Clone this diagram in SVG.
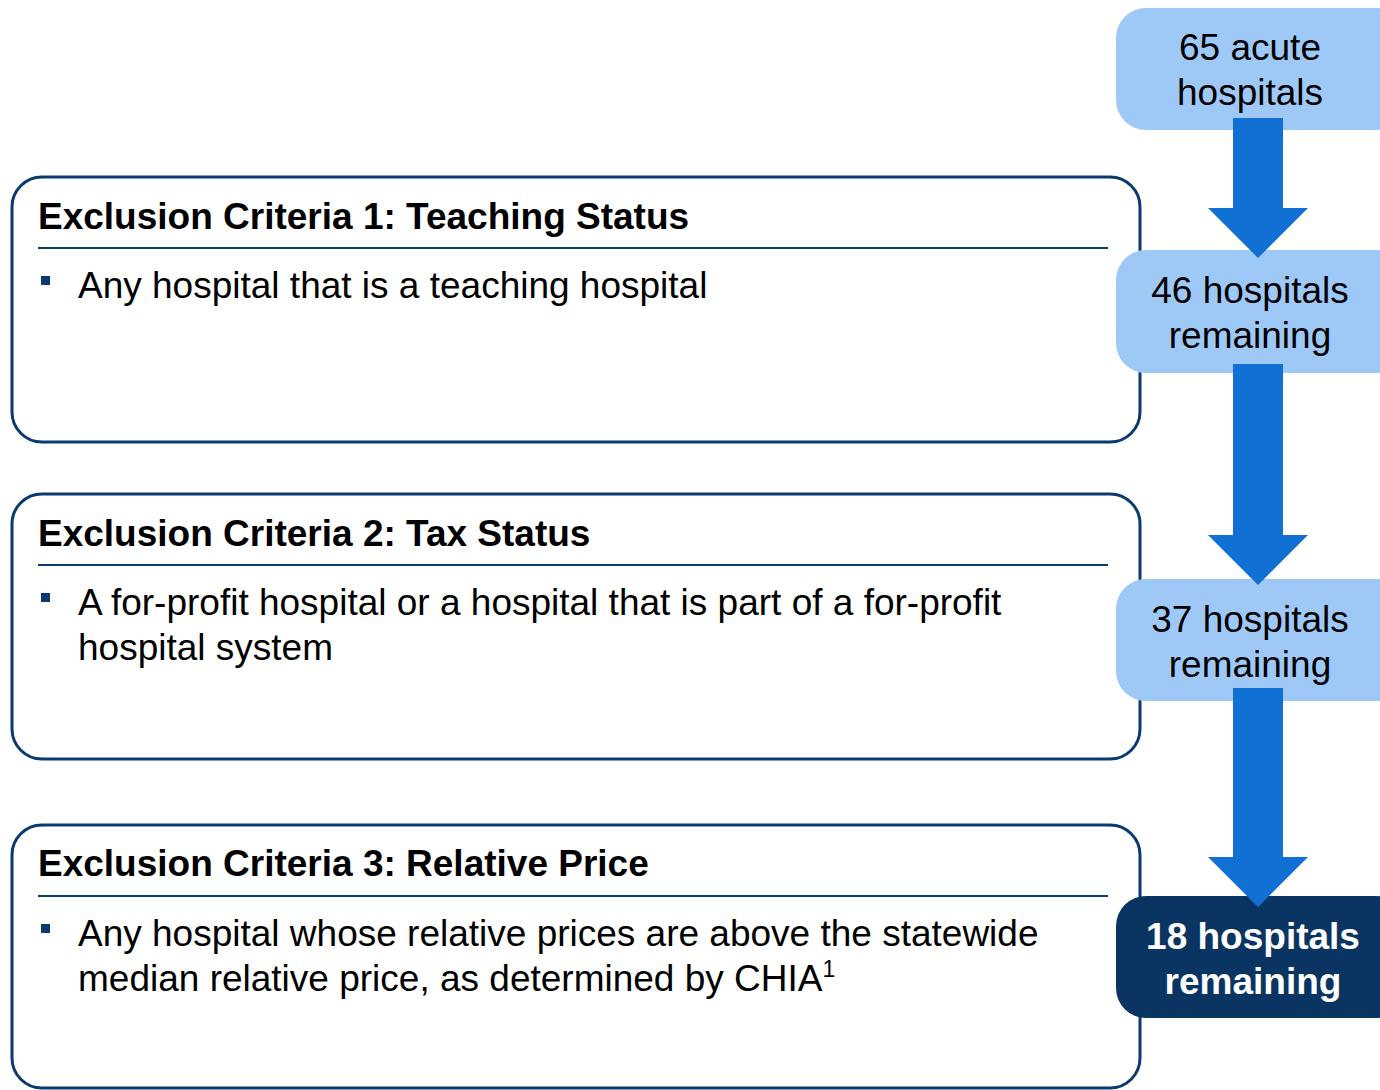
<svg xmlns="http://www.w3.org/2000/svg" width="1380" height="1090" viewBox="0 0 1380 1090">
<style>
.crit{fill:#fff;stroke:#0b3a70;stroke-width:3}
.div{stroke:#0b3a70;stroke-width:2}
.h{font-family:"Liberation Sans",Arial,sans-serif;font-weight:bold;font-size:37px;fill:#000}
.b{font-family:"Liberation Sans",Arial,sans-serif;font-size:37px;fill:#000}
.bul{fill:#0b3a70}
.cnt{fill:#9ec9f6}
.cntd{fill:#0a3563}
.ct{font-family:"Liberation Sans",Arial,sans-serif;font-size:37px;fill:#000;text-anchor:middle}
.ctw{font-family:"Liberation Sans",Arial,sans-serif;font-size:37px;font-weight:bold;fill:#fff;text-anchor:middle}
.arr{fill:#1070d4}
</style>
<g id="crit1">
<rect class="crit" x="12" y="177" width="1128" height="265" rx="30"/>
<text class="h" x="38" y="229">Exclusion Criteria 1: Teaching Status</text>
<line class="div" x1="38" y1="248" x2="1108" y2="248"/>
<rect class="bul" x="41" y="276" width="9" height="9"/>
<text class="b" x="78" y="298">Any hospital that is a teaching hospital</text>
</g>
<g id="crit2">
<rect class="crit" x="12" y="494" width="1128" height="265" rx="30"/>
<text class="h" x="38" y="546">Exclusion Criteria 2: Tax Status</text>
<line class="div" x1="38" y1="565" x2="1108" y2="565"/>
<rect class="bul" x="41" y="593" width="9" height="9"/>
<text class="b" x="78" y="615">A for-profit hospital or a hospital that is part of a for-profit</text>
<text class="b" x="78" y="660">hospital system</text>
</g>
<g id="crit3">
<rect class="crit" x="12" y="825" width="1128" height="263" rx="30"/>
<text class="h" x="38" y="876">Exclusion Criteria 3: Relative Price</text>
<line class="div" x1="38" y1="896" x2="1108" y2="896"/>
<rect class="bul" x="41" y="924" width="9" height="9"/>
<text class="b" x="78" y="946">Any hospital whose relative prices are above the statewide</text>
<text class="b" x="78" y="991">median relative price, as determined by CHIA<tspan font-size="23" dy="-14">1</tspan></text>
</g>
<g id="count65">
<rect class="cnt" x="1116" y="8" width="290" height="122" rx="30"/>
<text class="ct" x="1250" y="60">65 acute</text>
<text class="ct" x="1250" y="105">hospitals</text>
</g>
<g id="count46">
<rect class="cnt" x="1116" y="250" width="290" height="123" rx="30"/>
<text class="ct" x="1250" y="303">46 hospitals</text>
<text class="ct" x="1250" y="348">remaining</text>
</g>
<g id="count37">
<rect class="cnt" x="1116" y="579" width="290" height="122" rx="30"/>
<text class="ct" x="1250" y="632">37 hospitals</text>
<text class="ct" x="1250" y="677">remaining</text>
</g>
<g id="count18">
<rect class="cntd" x="1116" y="896" width="290" height="122" rx="30"/>
<text class="ctw" x="1253" y="949">18 hospitals</text>
<text class="ctw" x="1253" y="994">remaining</text>
</g>
<g id="connectors">
<polygon class="arr" points="1233,118 1283,118 1283,208 1308,208 1258,258 1208,208 1233,208"/>
<polygon class="arr" points="1233,364 1283,364 1283,535 1308,535 1258,585 1208,535 1233,535"/>
<polygon class="arr" points="1233,688 1283,688 1283,857 1308,857 1258,907 1208,857 1233,857"/>
</g>
</svg>
